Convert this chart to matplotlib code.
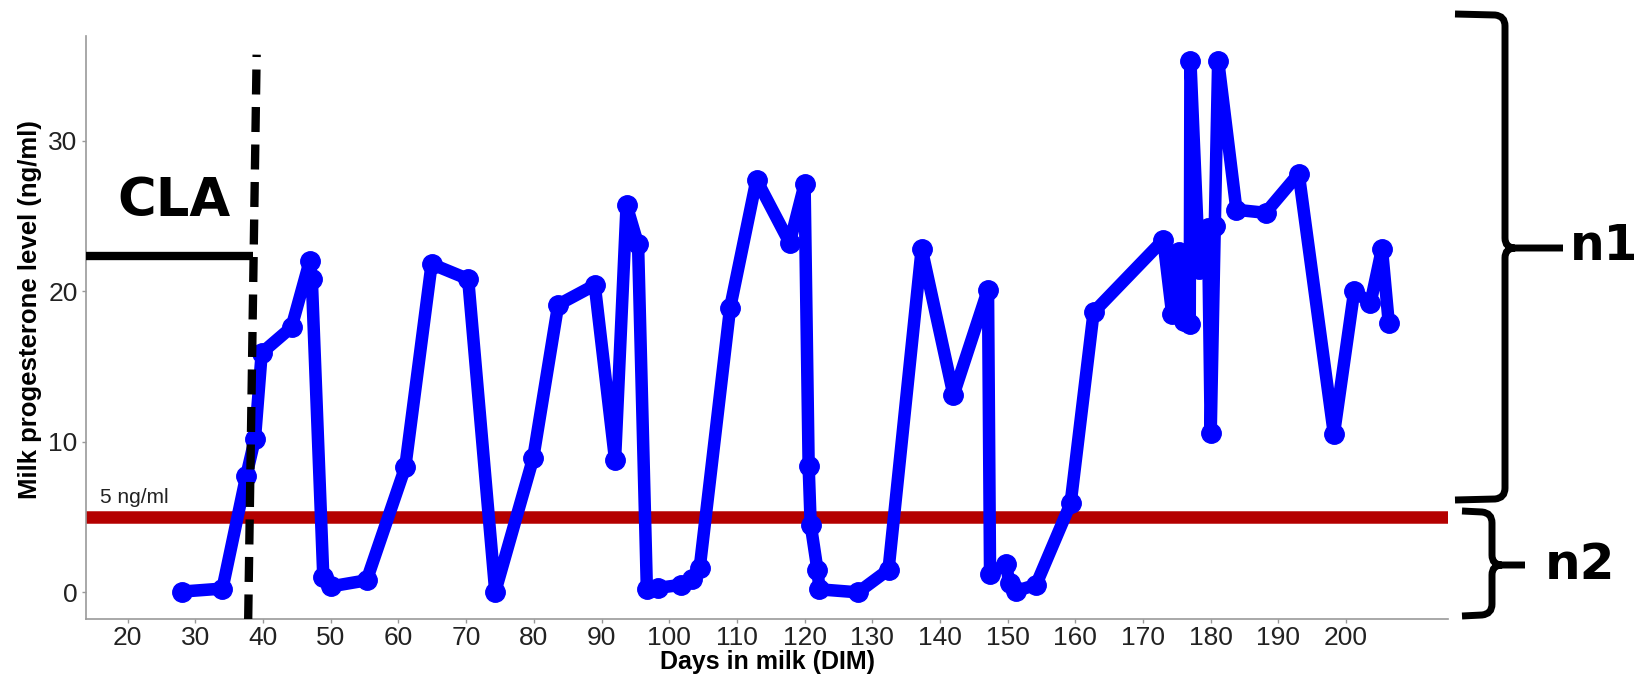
import matplotlib
matplotlib.use("Agg")
import matplotlib.pyplot as plt
from matplotlib.path import Path
from matplotlib.patches import PathPatch

# progesterone profile (DIM, ng/ml)
days = [28, 34, 37.5, 38.8, 39.8, 44.2, 46.9, 47.2, 48.9, 50.1, 55.3,
        61.0, 64.9, 70.3, 74.3, 79.9, 83.6, 89.0, 92.0, 93.7, 95.4,
        96.7, 98.4, 101.8, 103.3, 104.5, 109.0, 112.9, 117.8, 120.0,
        120.6, 120.9, 121.9, 122.2, 127.9, 132.4, 137.3, 142.0, 147.1,
        147.4, 149.7, 150.3, 151.3, 154.2, 159.3, 162.7, 173.0, 174.3,
        175.3, 176.0, 176.9, 177.0, 178.3, 179.6, 180.0, 180.6, 181.1,
        183.8, 188.1, 193.0, 198.2, 201.2, 203.6, 205.3, 206.3]
p4 = [0.05, 0.25, 7.7, 10.2, 15.9, 17.6, 22.0, 20.8, 1.0, 0.4, 0.8,
      8.3, 21.8, 20.8, 0.05, 8.9, 19.1, 20.4, 8.8, 25.7, 23.1,
      0.2, 0.3, 0.5, 0.9, 1.6, 18.9, 27.4, 23.2, 27.1,
      8.4, 4.5, 1.5, 0.2, 0.0, 1.5, 22.8, 13.1, 20.1,
      1.2, 1.9, 0.6, 0.1, 0.5, 5.9, 18.6, 23.4, 18.5,
      22.6, 18.0, 17.8, 35.3, 21.5, 24.2, 10.6, 24.3, 35.3,
      25.4, 25.2, 27.8, 10.5, 20.0, 19.2, 22.8, 17.9]

threshold = 5
x_ticks = list(range(20, 201, 10))
y_ticks = [0, 10, 20, 30]
cla_day = (37.8, 39.05)   # dashed line bottom / top (slightly slanted)
cla_level = 22.3

W, H = 1637, 678
fig = plt.figure(figsize=(W / 100, H / 100), dpi=100)
ax = fig.add_axes([86 / W, 1 - 619.3 / H, (1448.3 - 86) / W, (619.3 - 35.7) / H])

ax.axhline(threshold, color='#B40000', lw=9, zorder=1)
ax.plot(days, p4, color='#0000FF', lw=9, marker='o', ms=14,
        solid_joinstyle='round', zorder=2)
ax.plot(cla_day, [-1.8, 35.7], color='black', lw=6, dashes=(3, 1.5), zorder=3)
ax.plot([13.84, cla_day[1] - 0.5], [cla_level, cla_level], color='black', lw=6,
        solid_capstyle='butt', zorder=3)

ax.text(15.9, 5.9, '5 ng/ml', fontsize=15, color='#222222',
        family='Liberation Sans', ha='left', va='baseline')
ax.text(26.9, 26.0, 'CLA', fontsize=38, fontweight='bold',
        family='DejaVu Sans', ha='center', va='center')

ax.set_xlim(13.84, 215.1)
ax.set_ylim(-1.79, 36.96)
ax.set_xticks(x_ticks)
ax.set_yticks(y_ticks)
for s in ['top', 'right']:
    ax.spines[s].set_visible(False)
for s in ['left', 'bottom']:
    ax.spines[s].set_color('#999999')
    ax.spines[s].set_linewidth(1.2)
ax.tick_params(length=3, width=1, color='#999999', labelsize=19,
               labelcolor='#222222')
ax.tick_params(axis='x', pad=2)
ax.tick_params(axis='y', pad=3)
for lab in ax.get_xticklabels() + ax.get_yticklabels():
    lab.set_family('Liberation Sans')

ax.set_xlabel('Days in milk (DIM)', fontsize=18, fontweight='bold',
              family='Liberation Sans')
ax.set_ylabel('Milk progesterone level (ng/ml)', fontsize=18.5, fontweight='bold',
              family='Liberation Sans')
ax.xaxis.set_label_coords(0.5, -0.074)
ax.yaxis.set_label_coords(-0.041, 0.53)
ax.xaxis.label.set_va('center')
ax.yaxis.label.set_va('center')

# overlay in pixel units for the braces
ov = fig.add_axes([0, 0, 1, 1], zorder=5)
ov.set_xlim(0, W)
ov.set_ylim(H, 0)
ov.axis('off')


def brace(x_hook, x_v, y_top, y_bot, y_tip, x_tip, r=10):
    verts = [(x_hook, y_top), (x_v - r, y_top + 1), (x_v, y_top + 2), (x_v, y_top + r + 2),
             (x_v, y_tip - r), (x_v, y_tip), (x_v + r, y_tip),
             (x_tip, y_tip),
             (x_v + r, y_tip), (x_v, y_tip), (x_v, y_tip + r),
             (x_v, y_bot - r - 2), (x_v, y_bot - 2), (x_v - r, y_bot - 1), (x_hook, y_bot)]
    codes = [Path.MOVETO, Path.LINETO, Path.CURVE3, Path.CURVE3,
             Path.LINETO, Path.CURVE3, Path.CURVE3,
             Path.LINETO,
             Path.MOVETO, Path.CURVE3, Path.CURVE3,
             Path.LINETO, Path.CURVE3, Path.CURVE3, Path.LINETO]
    ov.add_patch(PathPatch(Path(verts, codes), fill=False, lw=5,
                           edgecolor='black', capstyle='butt'))


brace(1455, 1505, 14, 500, 248, 1563)
brace(1462, 1492, 511, 616, 565, 1525)
ov.text(1570, 246, 'n1', fontsize=35, fontweight='bold', family='DejaVu Sans',
        ha='left', va='center')
ov.text(1545, 565, 'n2', fontsize=36, fontweight='bold', family='DejaVu Sans',
        ha='left', va='center')

fig.savefig('out.png', dpi=100)
